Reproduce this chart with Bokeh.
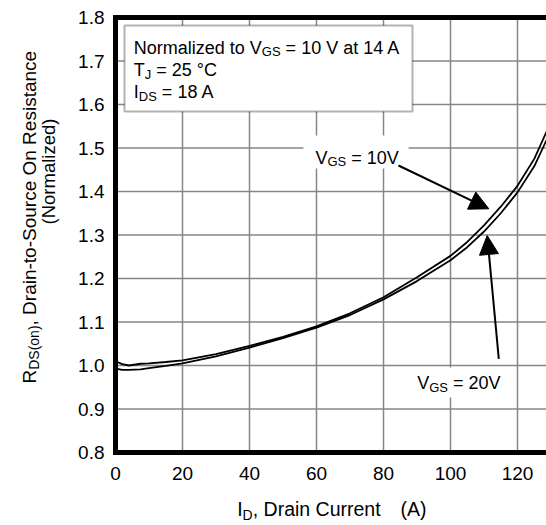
import math
from bokeh.plotting import figure
from bokeh.models import (Range1d, LinearAxis, FixedTicker, PrintfTickFormatter,
                          Label, BoxAnnotation, Arrow, NormalHead)
from bokeh.embed import file_html
from bokeh.resources import INLINE

# ---- data ----
id_current = [0, 0.5, 2, 4, 7.5, 10, 15, 20, 30, 40, 50, 60, 70, 80, 90,
              100, 105, 110, 115, 120, 125, 130]
rds_vgs10 = [1.018, 1.008, 1.003, 1.000, 1.004, 1.005, 1.008, 1.012, 1.026,
             1.045, 1.066, 1.090, 1.120, 1.157, 1.203, 1.252, 1.284, 1.322,
             1.365, 1.413, 1.475, 1.560]
rds_vgs20 = [1.000, 0.992, 0.990, 0.990, 0.991, 0.994, 0.999, 1.005, 1.021,
             1.041, 1.063, 1.087, 1.116, 1.152, 1.194, 1.242, 1.272, 1.308,
             1.350, 1.398, 1.458, 1.540]
x_ticks = [0, 20, 40, 60, 80, 100, 120]
y_ticks = [0.8, 0.9, 1.0, 1.1, 1.2, 1.3, 1.4, 1.5, 1.6, 1.7, 1.8]
x_min, y_min, y_max = 0, 0.8, 1.8

FONT = "Liberation Sans"
W, H = 546, 525
# plot-area placement on the page (px): left edge, top (1.8) and bottom (0.8)
PL, PT, PB = 115, 17, 452
XS = 3.35                         # px per ampere
YS = (PB - PT) / (y_max - y_min)  # px per unit of normalized R
BASE_FIX = 0.25                   # baseline correction, fraction of font size


def px2x(px):
    return x_min + (px - PL) / XS


def py2y(py):
    return y_min + (PB - py) / YS


x_end = px2x(W)

WID = {' ': 278, 'N': 722, 'o': 556, 'r': 333, 'm': 833, 'a': 556, 'l': 222,
       'i': 222, 'z': 500, 'e': 556, 'd': 556, 't': 278, 'V': 667, 'G': 778,
       'S': 667, '=': 584, '1': 556, '0': 556, '4': 556, 'A': 667, 'T': 611,
       'J': 500, '2': 556, '5': 556, '°': 400, 'C': 722, 'I': 278, 'D': 722,
       '8': 556, 'R': 722, '(': 333, ')': 333, ',': 278, 'n': 556, '-': 333,
       'u': 556, 'c': 500, 's': 500, 'O': 778}


def tw(s, fs):
    return sum(WID.get(c, 556) for c in s) * fs / 1000.0


p = figure(width=W, height=H,
           x_range=Range1d(px2x(0), px2x(W)), y_range=Range1d(py2y(H), py2y(0)),
           output_backend="svg", toolbar_location=None,
           min_border_left=0, min_border_right=0, min_border_top=0,
           min_border_bottom=0)
p.outline_line_color = None
p.background_fill_color = "white"
p.border_fill_color = "white"
p.xgrid.visible = False
p.ygrid.visible = False


def rich(px, py, segs, fs_main, fs_sub, drop, angle=0.0):
    pos = 0.0
    for text, sub in segs:
        fs = fs_sub if sub else fs_main
        d = (drop if sub else 0.0) - BASE_FIX * fs
        stripped = text.lstrip(" ")
        lead = tw(text[:len(text) - len(stripped)], fs)
        q = pos + lead
        if angle == 0.0:
            sx, sy = px + q, py + d
        else:
            sx, sy = px + d, py - q
        p.add_layout(Label(x=px2x(sx), y=py2y(sy), text=stripped, angle=angle,
                           text_font=FONT, text_font_size=f"{fs}px",
                           text_color="black", text_align="left",
                           text_baseline="alphabetic"))
        pos += tw(text, fs)


# grid lines (limited to the plot area)
GRID = dict(line_color="#868686", line_width=1.5)
p.segment(x0=x_ticks, y0=[y_min] * len(x_ticks), x1=x_ticks,
          y1=[y_max] * len(x_ticks), **GRID)
p.segment(x0=[x_min] * len(y_ticks), y0=y_ticks, x1=[x_end] * len(y_ticks),
          y1=y_ticks, **GRID)

# curves
p.line(id_current, rds_vgs10, line_color="black", line_width=1.8)
p.line(id_current, rds_vgs20, line_color="black", line_width=1.8)

# axes, pinned to the plot-area edges
xa, ya = p.xaxis[0], p.yaxis[0]
xa.ticker = FixedTicker(ticks=x_ticks)
ya.ticker = FixedTicker(ticks=y_ticks)
ya.formatter = PrintfTickFormatter(format="%.1f")
xa.fixed_location = y_min
ya.fixed_location = x_min
xa.bounds = (x_min, x_end)
ya.bounds = (y_min, y_max)
for ax in (xa, ya):
    ax.axis_line_width = 5
    ax.axis_line_color = "black"
    ax.axis_line_cap = "square"
    ax.major_tick_in = 0
    ax.major_tick_out = 0
    ax.minor_tick_in = 0
    ax.minor_tick_out = 0
    ax.major_label_text_font = FONT
    ax.major_label_text_font_size = "19px"
    ax.major_label_text_color = "black"
xa.major_label_standoff = 14
ya.major_label_standoff = 11

top = LinearAxis(ticker=FixedTicker(ticks=[]), fixed_location=y_max,
                 bounds=(x_min, x_end), axis_line_width=5,
                 axis_line_color="black", axis_line_cap="square",
                 major_tick_in=0, major_tick_out=0, minor_tick_in=0,
                 minor_tick_out=0, major_label_text_font_size="0px")
p.add_layout(top, "above")

# annotation box
p.add_layout(BoxAnnotation(left=px2x(124), right=px2x(412), top=py2y(25),
                           bottom=py2y(111), fill_color="white", fill_alpha=1.0,
                           line_color="black", line_width=2))
rich(133.3, 51.7, [("Normalized to V", 0), ("GS", 1), (" = 10 V at 14 A", 0)], 18, 13, 3)
rich(133.3, 74.0, [("T", 0), ("J", 1), (" = 25 °C", 0)], 18, 13, 3)
rich(133.3, 96.0, [("I", 0), ("DS", 1), (" = 18 A", 0)], 18, 13, 3)

# curve labels with white backgrounds
p.add_layout(BoxAnnotation(left=px2x(303), right=px2x(408), top=py2y(135),
                           bottom=py2y(168), fill_color="white", fill_alpha=1.0,
                           line_color=None))
rich(315, 161.7, [("V", 0), ("GS", 1), (" = 10V", 0)], 18, 13, 3)
p.add_layout(BoxAnnotation(left=px2x(408), right=px2x(510), top=py2y(367),
                           bottom=py2y(397), fill_color="white", fill_alpha=1.0,
                           line_color=None))
rich(416.7, 387.3, [("V", 0), ("GS", 1), (" = 20V", 0)], 18, 13, 3)

# arrows
p.add_layout(Arrow(x_start=px2x(398), y_start=py2y(165), x_end=px2x(488.3),
                   y_end=py2y(208.3), line_width=2, line_color="black",
                   end=NormalHead(size=19, fill_color="black", line_color="black")))
p.add_layout(Arrow(x_start=px2x(498.3), y_start=py2y(358.3), x_end=px2x(486.7),
                   y_end=py2y(235), line_width=2, line_color="black",
                   end=NormalHead(size=19, fill_color="black", line_color="black")))

# axis titles
rich(236.7, 513.5, [("I", 0), ("D", 1), (", Drain Current", 0)], 19.5, 14, 4)
rich(400.0, 513.5, [("(A)", 0)], 19.5, 14, 4)
rich(33.3, 383.0, [("R", 0), ("DS(on)", 1), (", Drain-to-Source On Resistance", 0)],
     19, 14, 4, angle=math.pi / 2)
rich(52.5, 224.0, [("(Normalized)", 0)], 18.5, 14, 4, angle=math.pi / 2)

open("out.html", "w").write(file_html(p, INLINE))
